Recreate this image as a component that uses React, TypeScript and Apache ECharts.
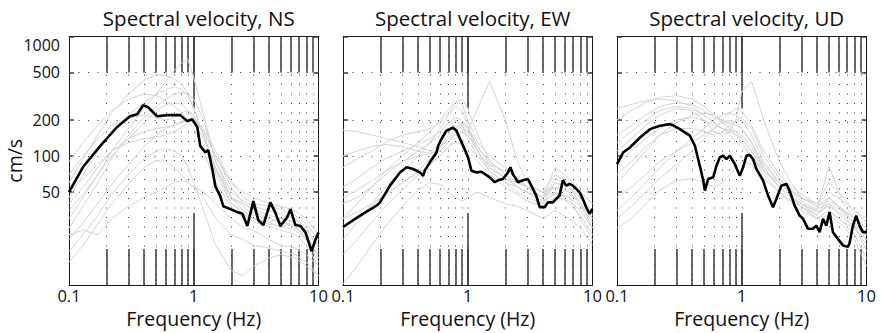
import React, { useEffect, useRef } from "react";
import * as echarts from "echarts";

// ---------- data ----------
const titles = ["Spectral velocity, NS", "Spectral velocity, EW", "Spectral velocity, UD"];
const xLabelValues = [0.1, 1, 10];
const xMinorTicks = [0.2, 0.3, 0.4, 0.5, 0.6, 0.7, 0.8, 0.9, 2, 3, 4, 5, 6, 7, 8, 9];
const xMajorTicks = [1];
const yLabelValues = [50, 100, 200, 500, 1000];
const yMin = 8.35;
const yMax = 1000;

// common frequency grid for the individual station spectra (grey)
const freqs = [0.1, 0.13, 0.17, 0.22, 0.3, 0.4, 0.5, 0.6, 0.7, 0.8, 0.9, 1, 1.2, 1.5, 2, 2.5, 3, 4, 5, 6.5, 8, 10];

const nsGray = [
  [60, 95, 150, 230, 330, 430, 480, 470, 440, 400, 330, 250, 150, 70, 40, 35, 30, 28, 30, 25, 22, 18],
  [30, 45, 70, 110, 170, 250, 330, 420, 520, 600, 640, 450, 220, 90, 45, 38, 32, 30, 28, 26, 20, 15],
  [90, 130, 180, 240, 300, 330, 320, 290, 260, 230, 200, 170, 110, 60, 38, 30, 34, 28, 25, 30, 24, 18],
  [45, 70, 110, 160, 220, 280, 330, 360, 380, 360, 320, 250, 150, 75, 45, 40, 36, 32, 30, 28, 22, 14],
  [25, 38, 60, 95, 150, 210, 260, 300, 330, 340, 330, 300, 200, 90, 50, 42, 38, 35, 33, 30, 25, 17],
  [70, 100, 140, 180, 210, 220, 210, 200, 210, 230, 240, 220, 150, 80, 40, 33, 28, 26, 24, 22, 18, 12],
  [40, 55, 80, 110, 140, 160, 170, 175, 180, 190, 200, 190, 140, 80, 45, 35, 30, 27, 26, 24, 20, 13],
  [20, 28, 40, 58, 85, 120, 150, 170, 185, 195, 205, 200, 160, 100, 55, 40, 35, 30, 28, 25, 21, 16],
  [13, 18, 27, 40, 58, 80, 92, 90, 80, 70, 60, 55, 45, 30, 22, 20, 18, 17, 16, 15, 13, 10],
  [22, 24, 22, 30, 38, 45, 50, 55, 60, 62, 60, 55, 50, 40, 30, 25, 24, 20, 18, 17, 15, 12],
  [50, 65, 85, 110, 130, 140, 145, 150, 160, 175, 190, 200, 170, 110, 60, 45, 40, 38, 36, 32, 27, 20],
  [35, 48, 70, 100, 140, 190, 240, 270, 280, 270, 240, 210, 160, 100, 60, 50, 45, 40, 38, 35, 30, 22],
  [16, 22, 32, 48, 70, 95, 110, 115, 110, 100, 80, 60, 35, 18, 11, 10, 12, 14, 15, 14, 12, 10],
];

const ewGray = [
  [165, 160, 150, 140, 130, 120, 110, 120, 150, 200, 180, 140, 100, 75, 60, 55, 50, 45, 55, 50, 40, 30],
  [80, 95, 110, 130, 150, 160, 170, 190, 230, 280, 300, 250, 150, 90, 70, 60, 55, 45, 60, 55, 45, 35],
  [40, 45, 55, 70, 90, 110, 130, 150, 170, 180, 170, 160, 250, 420, 200, 90, 60, 50, 55, 50, 40, 30],
  [30, 40, 55, 75, 100, 130, 160, 200, 250, 290, 270, 200, 130, 100, 80, 65, 55, 45, 65, 55, 40, 25],
  [20, 28, 40, 55, 75, 100, 130, 170, 220, 260, 240, 180, 120, 90, 70, 55, 50, 40, 50, 45, 30, 20],
  [55, 65, 80, 95, 110, 125, 140, 160, 190, 210, 200, 170, 120, 85, 65, 60, 55, 50, 70, 60, 50, 40],
  [8.5, 12, 18, 26, 38, 52, 60, 58, 50, 45, 42, 45, 50, 45, 40, 38, 35, 30, 35, 30, 25, 18],
  [25, 30, 38, 48, 60, 75, 95, 120, 140, 150, 140, 120, 100, 85, 75, 65, 55, 45, 50, 40, 32, 22],
  [100, 110, 120, 125, 120, 110, 105, 115, 140, 170, 190, 170, 110, 80, 65, 55, 50, 42, 48, 45, 38, 28],
  [15, 20, 28, 38, 52, 70, 85, 100, 120, 130, 125, 110, 90, 70, 55, 48, 42, 38, 45, 42, 35, 25],
  [45, 52, 62, 75, 90, 100, 105, 110, 130, 160, 180, 160, 110, 80, 65, 55, 50, 45, 80, 65, 50, 40],
  [30, 34, 40, 48, 60, 72, 85, 100, 120, 140, 160, 150, 110, 75, 60, 50, 45, 40, 60, 55, 45, 32],
];

const udGray = [
  [200, 240, 280, 310, 320, 300, 260, 220, 190, 170, 150, 130, 100, 70, 50, 40, 35, 30, 35, 28, 25, 20],
  [150, 180, 220, 260, 280, 270, 240, 210, 200, 190, 180, 170, 130, 80, 55, 45, 38, 32, 40, 30, 26, 22],
  [110, 140, 180, 220, 250, 240, 200, 160, 150, 160, 200, 350, 420, 200, 90, 60, 45, 38, 45, 35, 30, 25],
  [60, 80, 110, 150, 190, 220, 230, 220, 200, 180, 160, 140, 110, 75, 55, 45, 40, 35, 83, 40, 30, 22],
  [35, 45, 60, 80, 110, 140, 170, 200, 220, 230, 220, 200, 150, 90, 60, 48, 40, 34, 38, 32, 25, 18],
  [25, 30, 40, 52, 62, 65, 60, 55, 60, 70, 80, 90, 85, 65, 50, 42, 38, 30, 35, 28, 22, 14],
  [90, 110, 140, 170, 200, 210, 200, 180, 170, 165, 160, 150, 120, 80, 55, 45, 40, 32, 45, 35, 28, 20],
  [45, 55, 70, 90, 110, 130, 150, 170, 200, 230, 250, 240, 180, 110, 70, 55, 48, 40, 60, 45, 35, 28],
  [130, 160, 200, 240, 260, 250, 220, 190, 170, 150, 130, 120, 100, 75, 60, 50, 45, 40, 50, 42, 35, 30],
  [30, 38, 50, 65, 85, 110, 140, 170, 190, 200, 190, 170, 130, 85, 60, 50, 42, 36, 40, 34, 27, 16],
  [250, 270, 290, 300, 290, 260, 220, 190, 170, 160, 150, 140, 110, 80, 55, 45, 38, 30, 32, 26, 20, 12],
  [70, 90, 120, 150, 170, 170, 160, 150, 160, 180, 200, 210, 170, 100, 65, 52, 45, 38, 42, 36, 30, 25],
];

// average spectra (black)
const nsMeanFreq = [0.1, 0.1295, 0.1775, 0.243, 0.309, 0.352, 0.393, 0.431, 0.509, 0.612, 0.779, 0.887, 0.972, 1.067, 1.128, 1.237, 1.307, 1.408, 1.489, 1.633, 1.726, 1.965, 2.236, 2.453, 2.69, 3.006, 3.297, 3.615, 4.114, 4.515, 4.95, 5.63, 5.96, 6.53, 7.17, 7.87, 8.79, 9.46, 10];
const nsMean = [50, 81, 121, 175, 215, 224, 266, 256, 215, 220, 220, 196, 203, 175, 121, 108, 112, 78, 56, 46, 38, 36, 34, 33, 26, 42, 29, 26.5, 41, 33.5, 26, 31, 36, 26.5, 26, 23, 16, 20, 23];

const ewMeanFreq = [0.1, 0.137, 0.186, 0.198, 0.238, 0.286, 0.323, 0.365, 0.413, 0.439, 0.453, 0.497, 0.562, 0.579, 0.616, 0.675, 0.763, 0.811, 0.918, 1.006, 1.07, 1.174, 1.29, 1.5, 1.644, 1.748, 1.917, 2.1, 2.196, 2.3, 2.527, 2.77, 3.04, 3.33, 3.54, 3.77, 4.13, 4.39, 4.81, 5.12, 5.44, 5.79, 6.16, 6.55, 6.96, 7.4, 7.87, 8.37, 8.9, 9.46, 10];
const ewMean = [25.5, 31.8, 38.5, 41, 56.6, 73, 80.5, 78, 73, 68.5, 75.5, 88.6, 107, 122, 139, 163, 173, 163, 122, 97.5, 75.5, 73, 74, 66.4, 60.4, 62.7, 64.3, 73, 80.5, 70.8, 60.4, 62.7, 64.3, 53.1, 46.7, 37.4, 37.4, 41, 41, 43.8, 46.7, 62.7, 56.6, 58.5, 56.6, 53.1, 49.8, 43.8, 37.4, 32.9, 36.1];

const udMeanFreq = [0.1, 0.112, 0.127, 0.153, 0.184, 0.221, 0.265, 0.282, 0.319, 0.384, 0.421, 0.461, 0.491, 0.506, 0.538, 0.59, 0.627, 0.667, 0.709, 0.754, 0.802, 0.879, 0.964, 1.025, 1.09, 1.159, 1.232, 1.31, 1.48, 1.625, 1.78, 1.894, 2.077, 2.277, 2.42, 2.655, 2.91, 3.1, 3.39, 3.72, 3.96, 4.21, 4.48, 4.76, 5.06, 5.38, 5.9, 6.47, 7.09, 7.31, 7.78, 8.27, 8.79, 9.35, 10];
const udMean = [85.8, 107, 118, 143, 168, 179, 185, 181, 168, 148, 122, 83, 62.7, 51.4, 64.3, 66.4, 83, 97.5, 100.6, 94.4, 100.6, 85.8, 68.5, 80.5, 100.6, 102, 94.4, 78, 62.7, 46.7, 37.4, 43.8, 56.6, 58.5, 51.4, 38.5, 31.8, 29.9, 24.7, 24.7, 26.2, 23.1, 29.9, 26.2, 34, 23.1, 20.3, 17.9, 17.4, 18.6, 26.2, 31.8, 26.2, 23.1, 23.1];

// ---------- chart ----------
const FONT = "'Open Sans', sans-serif";
const lg = (v: number) => Math.log10(v);

export default function App() {
  const ref = useRef<HTMLDivElement>(null);

  useEffect(() => {
    if (!ref.current) return;
    const chart = echarts.init(ref.current, undefined, { renderer: "svg" });

    const gridLefts = [69, 343, 617];
    const gridWidth = 249.5;
    const panels = [
      { gray: nsGray, mf: nsMeanFreq, mv: nsMean },
      { gray: ewGray, mf: ewMeanFreq, mv: ewMean },
      { gray: udGray, mf: udMeanFreq, mv: udMean },
    ];

    const minorLog = [...xMinorTicks.map(lg), 0];
    const majorLog = xMajorTicks.map(lg);
    const xLabLog = xLabelValues.map(lg);
    const yLabLog = yLabelValues.map(lg);
    const xFmt = (v: number) => {
      const r = Math.pow(10, v);
      return r < 0.5 ? "0.1" : r < 5 ? "1" : "10";
    };
    const yFmt = (v: number) => String(Math.round(Math.pow(10, v)));

    const tickStyle = { color: "#3a3a3a", width: 1.5 };
    const lineStyle = { color: "#1a1a1a", width: 1 };
    const dotStyle = { color: "#333", width: 1, type: [1, 8.5] as any };

    const grid: any[] = [];
    const xAxis: any[] = [];
    const yAxis: any[] = [];
    const series: any[] = [];
    const title: any[] = [];

    gridLefts.forEach((left, g) => {
      grid.push({ left, top: 36.5, width: gridWidth, height: 250 });
      title.push({
        text: titles[g],
        left: left + gridWidth / 2,
        top: 2,
        textAlign: "center",
        textStyle: { fontSize: 20.5, fontWeight: "normal", color: "#111", fontFamily: FONT },
      });
      const xi = xAxis.length;
      // bottom minor ticks + labels + vertical dotted grid
      xAxis.push({
        gridIndex: g, type: "value", min: -1, max: 1, position: "bottom",
        axisLine: { show: true, onZero: false, lineStyle },
        axisTick: { show: true, inside: true, length: 36, customValues: minorLog, lineStyle: tickStyle },
        axisLabel: {
          show: true, customValues: xLabLog, formatter: xFmt, fontSize: 16.5, lineHeight: 16,
          color: "#111", fontFamily: FONT, margin: 2,
        },
        splitLine: { show: true, lineStyle: dotStyle },
        name: "Frequency (Hz)", nameLocation: "middle", nameGap: 23, nameMoveOverlap: false,
        nameTextStyle: { fontSize: 19.5, lineHeight: 20, color: "#111", fontFamily: FONT },
      });
      // top minor ticks
      xAxis.push({
        gridIndex: g, type: "value", min: -1, max: 1, position: "top",
        axisLine: { show: true, onZero: false, lineStyle },
        axisTick: { show: true, inside: true, length: 36, customValues: minorLog, lineStyle: tickStyle },
        axisLabel: { show: false }, splitLine: { show: false },
      });
      // bottom / top major ticks
      ["bottom", "top"].forEach((pos) => {
        xAxis.push({
          gridIndex: g, type: "value", min: -1, max: 1, position: pos,
          axisLine: { show: false, onZero: false },
          axisTick: { show: true, inside: true, length: 72, customValues: majorLog, lineStyle: tickStyle },
          axisLabel: { show: false }, splitLine: { show: false },
        });
      });
      const yi = yAxis.length;
      yAxis.push({
        gridIndex: g, type: "value", min: lg(yMin), max: lg(yMax), position: "left",
        axisLine: { show: true, onZero: false, lineStyle },
        axisTick: { show: true, inside: true, length: 5, customValues: yLabLog, lineStyle: tickStyle },
        axisLabel: {
          show: g === 0, customValues: yLabLog, formatter: yFmt, fontSize: 16, color: "#111",
          fontFamily: FONT, margin: 9, verticalAlignMaxLabel: "top",
        },
        splitLine: { show: true, lineStyle: dotStyle },
        name: g === 0 ? "cm/s" : "", nameLocation: "middle", nameGap: 45, nameMoveOverlap: false,
        nameTextStyle: { fontSize: 19.5, color: "#111", fontFamily: FONT },
      });
      yAxis.push({
        gridIndex: g, type: "value", min: lg(yMin), max: lg(yMax), position: "right",
        axisLine: { show: true, onZero: false, lineStyle },
        axisTick: { show: true, inside: true, length: 5, customValues: yLabLog, lineStyle: tickStyle },
        axisLabel: { show: false }, splitLine: { show: false },
      });

      const p = panels[g];
      p.gray.forEach((vals) => {
        series.push({
          type: "line", xAxisIndex: xi, yAxisIndex: yi, showSymbol: false, silent: true,
          data: freqs.map((f, i) => [lg(f), lg(vals[i])]),
          lineStyle: { color: "#d4d4d4", width: 1 }, z: 2,
        });
      });
      series.push({
        type: "line", xAxisIndex: xi, yAxisIndex: yi, showSymbol: false, silent: true,
        data: p.mf.map((f, i) => [lg(f), lg(p.mv[i])]),
        lineStyle: { color: "#000", width: 2.6 }, z: 5,
      });
    });

    chart.setOption({
      animation: false,
      backgroundColor: "#fff",
      title, grid, xAxis, yAxis, series,
    });
    return () => chart.dispose();
  }, []);

  return (
    <div
      ref={ref}
      style={{ position: "absolute", left: 0, top: 0, width: 881, height: 333 }}
    />
  );
}
